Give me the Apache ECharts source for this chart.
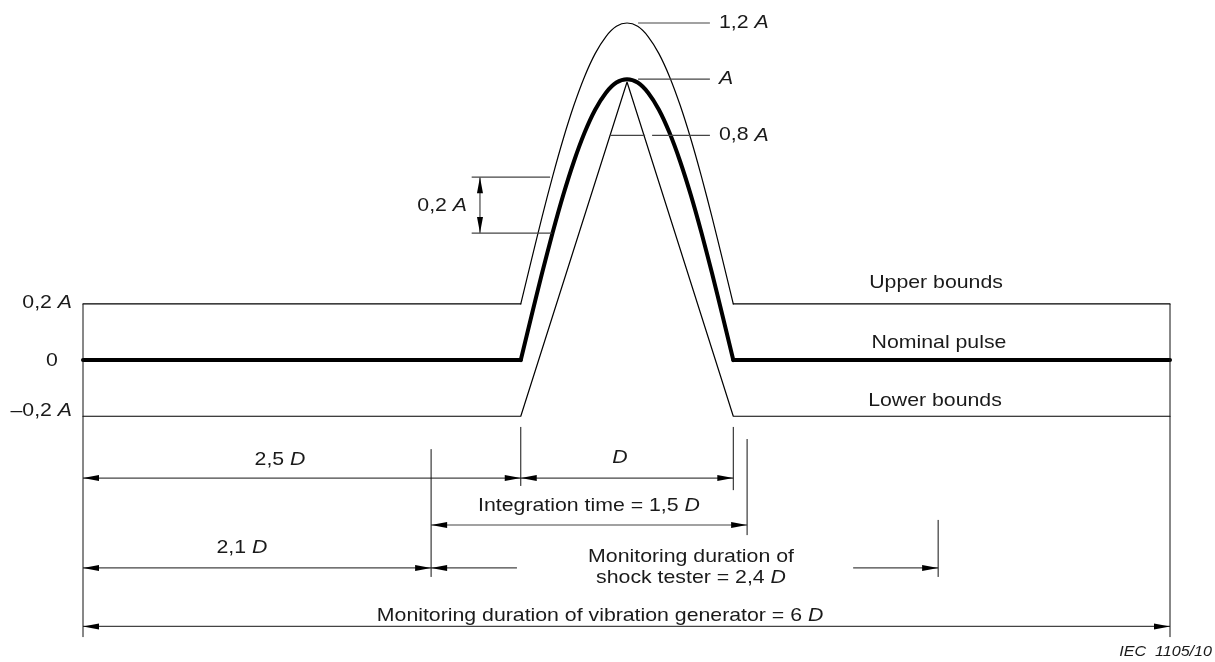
<!DOCTYPE html>
<html>
<head>
<meta charset="utf-8">
<title>Half-sine pulse tolerance</title>
<script src="https://cdn.jsdelivr.net/npm/echarts@6/dist/echarts.min.js"></script>
<style>
  html, body { margin: 0; padding: 0; background: #fff; }
  #chart { width: 1215px; height: 662px; }
</style>
</head>
<body>
<div id="chart"></div>
<script>
// time axis in units of the pulse duration D, counted from the left end
var pulseStart = 2.06;
var recordEnd = 5.115;

// half-sine pulse at steps of 0.05 D
var pulseT = [0, 0.05, 0.1, 0.15, 0.2, 0.25, 0.3, 0.35, 0.4, 0.45, 0.5,
              0.55, 0.6, 0.65, 0.7, 0.75, 0.8, 0.85, 0.9, 0.95, 1];
var nominal = [0, 0.156, 0.309, 0.454, 0.588, 0.707, 0.809, 0.891, 0.951, 0.988, 1,
               0.988, 0.951, 0.891, 0.809, 0.707, 0.588, 0.454, 0.309, 0.156, 0];
var upper = [0.2, 0.356, 0.509, 0.654, 0.788, 0.907, 1.009, 1.091, 1.151, 1.188, 1.2,
             1.188, 1.151, 1.091, 1.009, 0.907, 0.788, 0.654, 0.509, 0.356, 0.2];
var upperLevel = 0.2;
var lowerLevel = -0.2;
var lowerApex = 0.99;

// left hand tick labels
var tickValues = [0.2, 0, -0.2];
var tickLabels = ['0,2 {i|A}', '0', '\u20130,2 {i|A}'];

// peak marks on the right of the pulse
var peakValues = [1.2, 1, 0.8];
var peakLabels = ['1,2 {i|A}', '{i|A}', '0,8 {i|A}'];

// horizontal dimensions: [from, to, level], arrows 3 = both ends, 1 = start, 2 = end
var dims = [
  [0, 2.06, -0.42, 3],
  [2.06, 3.06, -0.42, 3],
  [1.638, 3.125, -0.587, 3],
  [0, 1.638, -0.74, 3],
  [1.638, 2.042, -0.74, 1],
  [3.624, 4.024, -0.74, 2],
  [0, 5.115, -0.948, 3]
];
// extension lines: [x, from, to]
var extLines = [
  [0, 0.2, -0.986],
  [5.115, 0.2, -0.986],
  [2.06, -0.238, -0.448],
  [3.06, -0.238, -0.463],
  [3.125, -0.281, -0.623],
  [1.638, -0.317, -0.772],
  [4.024, -0.569, -0.772]
];
// leader lines: [from, to, level]
var leaders = [
  [2.612, 2.95, 1.2],
  [2.612, 2.95, 1.0],
  [2.48, 2.645, 0.8],
  [2.678, 2.95, 0.8],
  [1.829, 2.198, 0.651],
  [1.829, 2.206, 0.452]
];
// vertical 0,2 A dimension: [x, from, to]
var vDims = [[1.868, 0.452, 0.651]];

// texts: [x, y, align, text]
var texts = [
  [0.927, -0.356, 'center', '2,5 {i|D}'],
  [2.527, -0.349, 'center', '{i|D}'],
  [2.381, -0.519, 'center', 'Integration time = 1,5 {i|D}'],
  [0.748, -0.669, 'center', '2,1 {i|D}'],
  [2.861, -0.701, 'center', 'Monitoring duration of'],
  [2.861, -0.776, 'center', 'shock tester = 2,4 {i|D}'],
  [2.433, -0.911, 'center', 'Monitoring duration of vibration generator = 6 {i|D}'],
  [4.014, 0.274, 'center', 'Upper bounds'],
  [4.028, 0.061, 'center', 'Nominal pulse'],
  [4.009, -0.145, 'center', 'Lower bounds'],
  [1.807, 0.548, 'right', '0,2 {i|A}']
];

var FONT = '"Liberation Sans", Arial, Helvetica, sans-serif';
var FS = 18.5;
var SX = 1.15;
var INK = '#1a1a1a';

function pts(xs, ys, x0) {
  return xs.map(function (t, i) { return [x0 + t, ys[i]]; });
}

var pulseEnd = pulseStart + pulseT[pulseT.length - 1];
var lowerData = [[0, lowerLevel], [pulseStart, lowerLevel], [pulseStart + 0.5, lowerApex],
                 [pulseEnd, lowerLevel], [recordEnd, lowerLevel]];

function textEl(p, text, align, fs, italicAll) {
  return {
    type: 'text', x: p[0], y: p[1], scaleX: SX,
    style: {
      text: text, x: 0, y: 0, fill: INK,
      fontSize: fs, fontFamily: FONT, fontStyle: italicAll ? 'italic' : 'normal',
      align: align, verticalAlign: 'middle',
      rich: { i: { fontStyle: 'italic', fontSize: fs, fontFamily: FONT, fill: INK } }
    }
  };
}

function seg(a, b, color, w) {
  return { type: 'line', shape: { x1: a[0], y1: a[1], x2: b[0], y2: b[1] },
           style: { stroke: color, lineWidth: w } };
}

function arrow(tip, dx, dy) {
  var L = 16, W = 3;
  var bx = tip[0] + dx * L, by = tip[1] + dy * L;
  return { type: 'polygon',
           shape: { points: [tip, [bx - dy * W, by + dx * W], [bx + dy * W, by - dx * W]] },
           style: { fill: '#000' } };
}

function drawAnnotations(params, api) {
  var kids = [];
  dims.forEach(function (d) {
    var a = api.coord([d[0], d[2]]), b = api.coord([d[1], d[2]]);
    kids.push(seg(a, b, '#444', 1.2));
    if (d[3] & 1) kids.push(arrow(a, 1, 0));
    if (d[3] & 2) kids.push(arrow(b, -1, 0));
  });
  vDims.forEach(function (d) {
    var a = api.coord([d[0], d[1]]), b = api.coord([d[0], d[2]]);
    kids.push(seg(a, b, '#222', 1));
    kids.push(arrow(a, 0, -1));
    kids.push(arrow(b, 0, 1));
  });
  extLines.forEach(function (e) {
    kids.push(seg(api.coord([e[0], e[1]]), api.coord([e[0], e[2]]), '#111', 1));
  });
  leaders.forEach(function (l) {
    kids.push(seg(api.coord([l[0], l[2]]), api.coord([l[1], l[2]]), '#444', 1.2));
  });
  // tick labels left of the record
  tickValues.forEach(function (v, i) {
    var p = api.coord([0, v]);
    if (v === 0) kids.push(textEl([p[0] - 31, p[1] + 1], tickLabels[i], 'center', FS));
    else kids.push(textEl([p[0] - 11, p[1] + (v < 0 ? -5 : -1)], tickLabels[i], 'right', FS));
  });
  peakValues.forEach(function (v, i) {
    var p = api.coord([leaders[0][1], v]);
    kids.push(textEl([p[0] + 9, p[1]], peakLabels[i], 'left', FS));
  });
  texts.forEach(function (t) {
    kids.push(textEl(api.coord([t[0], t[1]]), t[3], t[2], FS));
  });
  var r = api.coord([recordEnd, -1]);
  kids.push(textEl([r[0] + 42, r[1] + 11], 'IEC  1105/10', 'right', 14, true));
  return { type: 'group', children: kids };
}

function curve(name, data, width, smooth) {
  return { name: name, type: 'line', data: data, symbol: 'none', clip: false,
           smooth: smooth, silent: true, z: width > 2 ? 3 : 2,
           lineStyle: { color: '#000', width: width, cap: 'round', join: 'round' } };
}

var chart = echarts.init(document.getElementById('chart'), null, { renderer: 'canvas' });
chart.setOption({
  animation: false,
  backgroundColor: '#fff',
  grid: { left: 83, right: 45, top: 23, bottom: 21 },
  xAxis: { type: 'value', min: 0, max: recordEnd, show: false },
  yAxis: { type: 'value', min: -1, max: 1.2, show: false },
  series: [
    curve('Upper bounds', [[0, upperLevel], [pulseStart, upperLevel]], 1.2, false),
    curve('Upper bounds', pts(pulseT, upper, pulseStart), 1.2, 0.3),
    curve('Upper bounds', [[pulseEnd, upperLevel], [recordEnd, upperLevel]], 1.2, false),
    curve('Lower bounds', lowerData, 1.2, false),
    curve('Nominal pulse', [[0, 0], [pulseStart, 0]], 4, false),
    curve('Nominal pulse', pts(pulseT, nominal, pulseStart), 4, 0.3),
    curve('Nominal pulse', [[pulseEnd, 0], [recordEnd, 0]], 4, false),
    { type: 'custom', data: [0], clip: false, silent: true, z: 4,
      renderItem: drawAnnotations }
  ]
});
</script>
</body>
</html>
